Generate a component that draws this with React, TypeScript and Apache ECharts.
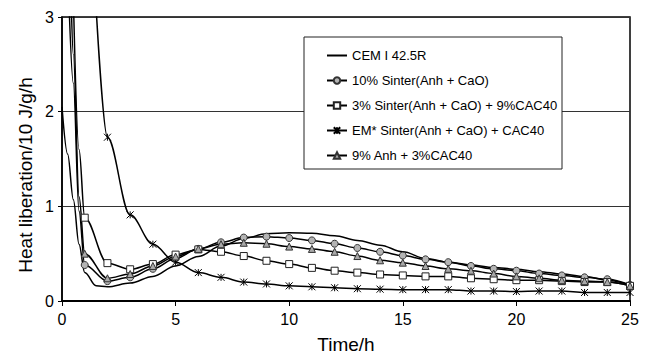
import React, { useEffect, useRef } from "react";
import * as echarts from "echarts";

const FONT = "'Liberation Sans', Arial, Helvetica, sans-serif";

const seriesNames = [
  "CEM I 42.5R",
  "10% Sinter(Anh + CaO)",
  "3% Sinter(Anh + CaO) + 9%CAC40",
  "EM* Sinter(Anh + CaO) + CAC40",
  "9% Anh + 3%CAC40",
];

const xTicks = [0, 5, 10, 15, 20, 25];
const yTicks = [0, 1, 2, 3];

const cemI: [number, number][] = [
  [0, 2.05], [0.25, 1.55], [0.5, 1.07], [0.75, 0.6], [1, 0.3], [1.5, 0.16], [2, 0.15],
  [3, 0.19], [4, 0.26], [5, 0.37], [6, 0.47], [7, 0.58], [8, 0.66], [9, 0.71], [10, 0.72],
  [11, 0.715], [12, 0.69], [13, 0.64], [14, 0.59], [15, 0.52], [16, 0.45], [17, 0.41],
  [18, 0.38], [19, 0.355], [20, 0.335], [21, 0.31], [22, 0.285], [23, 0.26], [24, 0.22], [25, 0.17],
];

const sinter10: [number, number][] = [
  [0.3, 3.2], [0.5, 2.3], [0.75, 0.95], [1, 0.38], [2, 0.21], [3, 0.25], [4, 0.34], [5, 0.45],
  [6, 0.55], [7, 0.62], [8, 0.67], [9, 0.68], [10, 0.665], [11, 0.64], [12, 0.605], [13, 0.56],
  [14, 0.52], [15, 0.48], [16, 0.44], [17, 0.41], [18, 0.37], [19, 0.34], [20, 0.32], [21, 0.29],
  [22, 0.27], [23, 0.25], [24, 0.23], [25, 0.17],
];

const sinter3cac9: [number, number][] = [
  [0.5, 3.2], [0.75, 1.6], [1, 0.88], [2, 0.4], [3, 0.335], [4, 0.39], [5, 0.49], [6, 0.545],
  [7, 0.52], [8, 0.475], [9, 0.425], [10, 0.39], [11, 0.35], [12, 0.32], [13, 0.3], [14, 0.28],
  [15, 0.27], [16, 0.26], [17, 0.26], [18, 0.24], [19, 0.23], [20, 0.22], [21, 0.22], [22, 0.21],
  [23, 0.2], [24, 0.2], [25, 0.16],
];

const emSinterCac: [number, number][] = [
  [1.5, 3.1], [2, 1.73], [3, 0.91], [4, 0.6], [5, 0.41], [6, 0.3], [7, 0.25], [8, 0.2], [9, 0.18],
  [10, 0.16], [11, 0.15], [12, 0.14], [13, 0.13], [14, 0.125], [15, 0.12], [16, 0.12], [17, 0.12],
  [18, 0.105], [19, 0.105], [20, 0.1], [21, 0.105], [22, 0.105], [23, 0.09], [24, 0.09], [25, 0.09],
];

const anh9cac3: [number, number][] = [
  [0.4, 3.2], [0.5, 2.6], [0.75, 1.1], [1, 0.5], [2, 0.24], [3, 0.285], [4, 0.37], [5, 0.47],
  [6, 0.55], [7, 0.6], [8, 0.615], [9, 0.605], [10, 0.575], [11, 0.55], [12, 0.52], [13, 0.475],
  [14, 0.43], [15, 0.405], [16, 0.37], [17, 0.34], [18, 0.32], [19, 0.29], [20, 0.26], [21, 0.24],
  [22, 0.22], [23, 0.21], [24, 0.2], [25, 0.16],
];

const ASTERISK = "path://M0 0L10 10M10 0L0 10M5 0L5 10";

const toData = (pts: [number, number][]) =>
  pts.map(([t, v]) => (Number.isInteger(t) ? [t, v] : { value: [t, v], symbol: "none" }));

export default function App() {
  const ref = useRef<HTMLDivElement>(null);
  useEffect(() => {
    if (!ref.current) return;
    const chart = echarts.init(ref.current, undefined, { renderer: "svg" });
    const lineBase = {
      type: "line",
      smooth: 0.35,
      smoothMonotone: "x",
      clip: true,
      lineStyle: { color: "#000", width: 1.5 },
    };
    chart.setOption({
      animation: false,
      backgroundColor: "#fff",
      textStyle: { fontFamily: FONT },
      grid: {
        left: 62,
        right: 18,
        top: 17,
        bottom: 58,
        show: true,
        borderColor: "#000",
        borderWidth: 1.5,
        backgroundColor: "transparent",
      },
      xAxis: {
        type: "value",
        min: xTicks[0],
        max: xTicks[xTicks.length - 1],
        interval: 5,
        name: "Time/h",
        nameLocation: "middle",
        nameGap: 34,
        nameTextStyle: { fontSize: 19, color: "#000", fontFamily: FONT },
        axisLine: { show: true, lineStyle: { color: "#000", width: 2 } },
        axisTick: { show: true, length: 5, lineStyle: { color: "#000" } },
        axisLabel: { fontSize: 16, color: "#000", margin: 10, fontFamily: FONT },
        splitLine: { show: false },
      },
      yAxis: {
        type: "value",
        min: yTicks[0],
        max: yTicks[yTicks.length - 1],
        interval: 1,
        axisLine: { show: true, onZero: false, lineStyle: { color: "#000", width: 1.5 } },
        axisTick: { show: true, length: 4, lineStyle: { color: "#000" } },
        axisLabel: { fontSize: 16, color: "#000", margin: 8, fontFamily: FONT },
        splitLine: { show: true, lineStyle: { color: "#333", width: 1 } },
      },
      legend: {
        orient: "vertical",
        left: 326,
        top: 49,
        itemWidth: 20,
        itemHeight: 8,
        itemGap: 12,
        padding: 0,
        z: 20,
        data: seriesNames.map((name, i) =>
          i === 0
            ? { name, itemStyle: { color: "transparent", borderColor: "transparent", borderWidth: 0, opacity: 0 } }
            : { name }
        ),
        textStyle: { fontSize: 13, color: "#000", fontFamily: FONT },
      },
      graphic: [
        {
          type: "rect",
          z: 10,
          shape: { x: 304, y: 37, width: 258, height: 132 },
          style: { fill: "#fff", stroke: "#222", lineWidth: 1 },
        },
        {
          type: "text",
          x: 25,
          y: 175,
          rotation: Math.PI / 2,
          style: {
            text: "Heat liberation/10 J/g/h",
            fontSize: 19,
            fontFamily: FONT,
            fill: "#000",
            align: "center",
            verticalAlign: "middle",
          },
        },
      ],
      series: [
        {
          ...lineBase,
          name: seriesNames[0],
          data: cemI.map((p) => [p[0], p[1]]),
          symbol: "none",
          itemStyle: { color: "#000" },
        },
        {
          ...lineBase,
          name: seriesNames[1],
          data: toData(sinter10),
          symbol: "circle",
          symbolSize: 7,
          itemStyle: { color: "#b4b4b4", borderColor: "#333", borderWidth: 1 },
        },
        {
          ...lineBase,
          name: seriesNames[2],
          data: toData(sinter3cac9),
          symbol: "rect",
          symbolSize: 7,
          itemStyle: { color: "#fff", borderColor: "#222", borderWidth: 1 },
        },
        {
          ...lineBase,
          name: seriesNames[3],
          data: toData(emSinterCac),
          symbol: ASTERISK,
          symbolSize: 7,
          itemStyle: { color: "#000", borderColor: "#000", borderWidth: 1 },
        },
        {
          ...lineBase,
          name: seriesNames[4],
          data: toData(anh9cac3),
          symbol: "triangle",
          symbolSize: 7,
          itemStyle: { color: "#a8a8a8", borderColor: "#333", borderWidth: 1 },
        },
      ],
    });
    return () => chart.dispose();
  }, []);
  return <div ref={ref} style={{ width: 648, height: 359, position: "absolute", left: 0, top: 0 }} />;
}
